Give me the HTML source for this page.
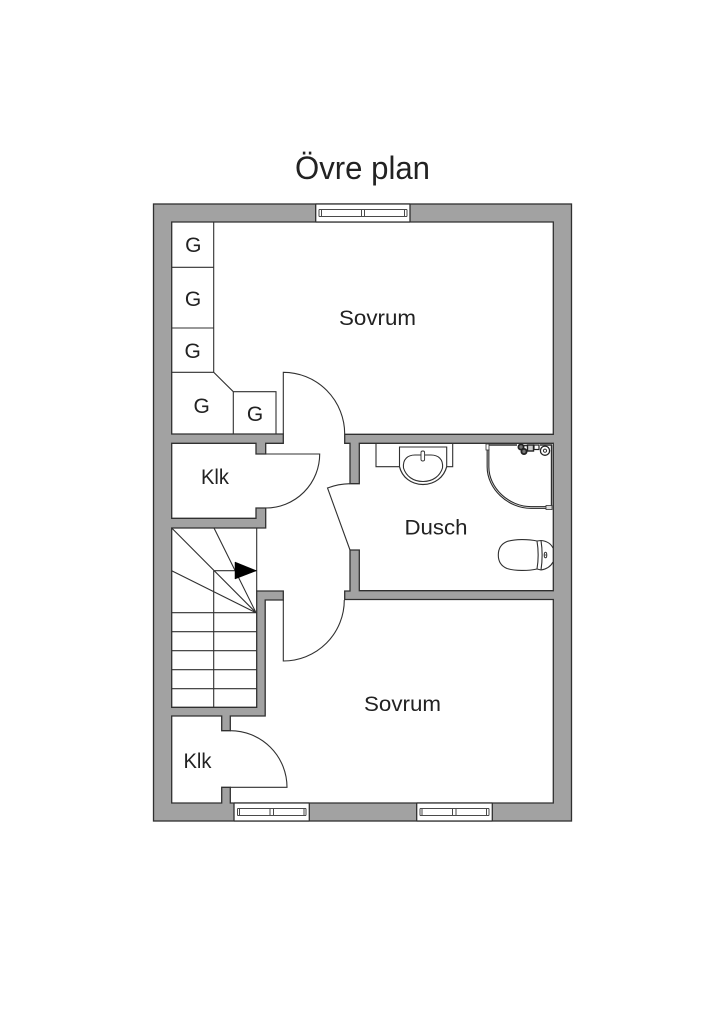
<!DOCTYPE html>
<html><head><meta charset="utf-8"><style>
html,body{margin:0;padding:0;background:#fff;width:724px;height:1024px;overflow:hidden}
svg{display:block}
text{font-family:"Liberation Sans",sans-serif;fill:#222}
</style></head><body>
<svg width="724" height="1024" viewBox="0 0 724 1024" xmlns="http://www.w3.org/2000/svg">
<rect width="724" height="1024" fill="#fff"/>
<g stroke="#303030" stroke-width="1.3" fill="none">
<rect x="153.5" y="204" width="418" height="617" fill="#a2a2a2"/>
<polygon fill="#fff" points="171.7,222 553.3,222 553.3,434.3 344.7,434.3 344.7,443.3 350,443.3 350,483.7 359.3,483.7 359.3,443.3 553.3,443.3 553.3,590.7 359.3,590.7 359.3,550 350,550 350,591 344.7,591 344.7,599.5 553.3,599.5 553.3,803 230.3,803 230.3,787.3 221.7,787.3 221.7,803 171.7,803 171.7,716 221.7,716 221.7,730.7 230.3,730.7 230.3,716 265.2,716 265.2,600 283.3,600 283.3,591 256.7,591 256.7,707.3 171.7,707.3 171.7,528 265.7,528 265.7,508 256,508 256,518.3 171.7,518.3 171.7,443.3 256,443.3 256,454 265.7,454 265.7,443.3 283.3,443.3 283.3,434 171.7,434"/>

<!-- windows -->
<g fill="#fff" stroke="none">
<rect x="315.7" y="204" width="94.3" height="18"/>
<rect x="234" y="803" width="75.3" height="18"/>
<rect x="416.7" y="803" width="75.6" height="18"/>
</g>
<path d="M315.7 204H410M315.7 222H410M315.7 204V222M410 204V222M234 803H309.3M234 821H309.3M234 803V821M309.3 803V821M416.7 803H492.3M416.7 821H492.3M416.7 803V821M492.3 803V821"/>
<g stroke-width="1" stroke="#4a4a4a">
<path d="M319 209.5V216.5M321.5 209.5V216.5M361.5 209.5V216.5M364.5 209.5V216.5M404.5 209.5V216.5M407 209.5V216.5M319 209.5H407M319 216.5H407"/>
<path d="M237.5 808.5V815.5M239.5 808.5V815.5M270 808.5V815.5M273.5 808.5V815.5M304 808.5V815.5M306 808.5V815.5M237.5 808.5H306M237.5 815.5H306"/>
<path d="M420 808.5V815.5M422 808.5V815.5M452.5 808.5V815.5M456 808.5V815.5M486.5 808.5V815.5M489 808.5V815.5M420 808.5H489M420 815.5H489"/>
</g>

<g stroke-width="1.1">
<!-- cabinets -->
<path d="M213.7 222V372.3L233.3 391.7H276V434M171.7 267.3H213.7M171.7 328H213.7M171.7 372.3H213.7M233.3 391.7V434"/>

<!-- doors -->
<path d="M283.3 434V372.3A61.4 61.7 0 0 1 344.7 434"/>
<path d="M265.7 454H319.7A54 54 0 0 1 265.7 508"/>
<path d="M283.3 600V661A61 61 0 0 0 344.3 600"/>
<path d="M350 483.7A66 66 0 0 0 327.5 488L350 550"/>
<path d="M230.3 730.7A56.7 56.6 0 0 1 287 787.3H230.3"/>

<!-- stairs -->
<path d="M213.7 570.7V707.3M171.7 612.7H256.7M171.7 631.7H256.7M171.7 650.7H256.7M171.7 669.7H256.7M171.7 688.7H256.7M256 612.7L171.7 528M256 612.7L171.7 570.7M256 612.7L214 528M213.7 570.7H256.7M256.7 528V591"/>
<polygon points="235,562 235,579 256.5,570.7" fill="#000" stroke="#000" stroke-width="0.5"/>

<!-- sink -->
<path d="M376 443.3V466.7H399.5V447H446.7V466.7H452.7V443.3"/>
<path d="M399.5 466.7C402 477 411 484.5 423 484.5C435 484.5 444 477 446.7 466.7" stroke-width="1.2"/>
<path d="M403.5 468C402.5 459 408 455 415 455H431C438 455 443.5 459 442.5 468C440 476 433 481.5 423 481.5C413 481.5 406 476 403.5 468Z"/>
<rect x="421" y="451" width="3.6" height="10" rx="1.6" fill="#fff" stroke-width="0.9"/>

<!-- shower -->
<path d="M488 449V467C488 488 508 507.5 531 507.5H547" stroke="#262626" stroke-width="2.8"/>
<path d="M488 449V467C488 488 508 507.5 531 507.5H547" stroke="#ddd" stroke-width="0.7"/>
<path d="M487 445H517M540 445H552M551.5 445V506" stroke-width="1.4"/>
<rect x="486" y="444" width="3" height="6" fill="#fff" stroke-width="0.8"/>
<rect x="546" y="505.5" width="6" height="4" fill="#ddd" stroke-width="0.8"/>
<path d="M518 445.5H538" stroke-width="1.6"/>
<circle cx="521" cy="447" r="2.6" stroke="#222" stroke-width="1.8" fill="#777"/>
<circle cx="524" cy="451.5" r="2.6" stroke="#222" stroke-width="1.8" fill="#777"/>
<rect x="527.5" y="445" width="6" height="6" fill="#ccc" stroke="#222" stroke-width="1.4"/>
<rect x="534" y="445" width="5" height="4.5" fill="#fff" stroke="#222" stroke-width="1.2"/>
<circle cx="545" cy="450.7" r="4.6" fill="#fff" stroke="#222" stroke-width="1.3"/>
<circle cx="545" cy="450.7" r="1.6" stroke-width="1"/>

<!-- toilet -->
<path d="M537 541C528 539 515 539 507 541.5C501 544 498.3 549 498.3 555C498.3 561 501 566 507 568.5C515 571 528 571 537 569" fill="#fff" stroke-width="1.1"/>
<path d="M537 541C538.5 550 538.5 560 537 569M541 540.5C542.5 550 542.5 560 541 570M537 541L541 540.5C547 541 551 544 553 548M537 569L541 570C547 569 551 566 553 562" stroke-width="1.1"/>
<ellipse cx="545.5" cy="555" rx="1.3" ry="2.8" stroke-width="1"/>
<path d="M544 555H547" stroke-width="0.8"/>
</g>
</g>

<!-- labels -->
<text x="295" y="179" font-size="32" textLength="135" lengthAdjust="spacingAndGlyphs">Övre plan</text>
<text x="339" y="325" font-size="21" textLength="77" lengthAdjust="spacingAndGlyphs">Sovrum</text>
<text x="364" y="711" font-size="21" textLength="77" lengthAdjust="spacingAndGlyphs">Sovrum</text>
<text x="404.5" y="534.5" font-size="21" textLength="63" lengthAdjust="spacingAndGlyphs">Dusch</text>
<text x="201" y="484" font-size="21" textLength="28" lengthAdjust="spacingAndGlyphs">Klk</text>
<text x="183.5" y="768" font-size="21" textLength="28" lengthAdjust="spacingAndGlyphs">Klk</text>
<g font-size="21" text-anchor="middle">
<text x="193.3" y="252.2">G</text>
<text x="193" y="306.2">G</text>
<text x="192.7" y="358.2">G</text>
<text x="201.7" y="413.2">G</text>
<text x="255" y="420.8">G</text>
</g>
</svg>
</body></html>
